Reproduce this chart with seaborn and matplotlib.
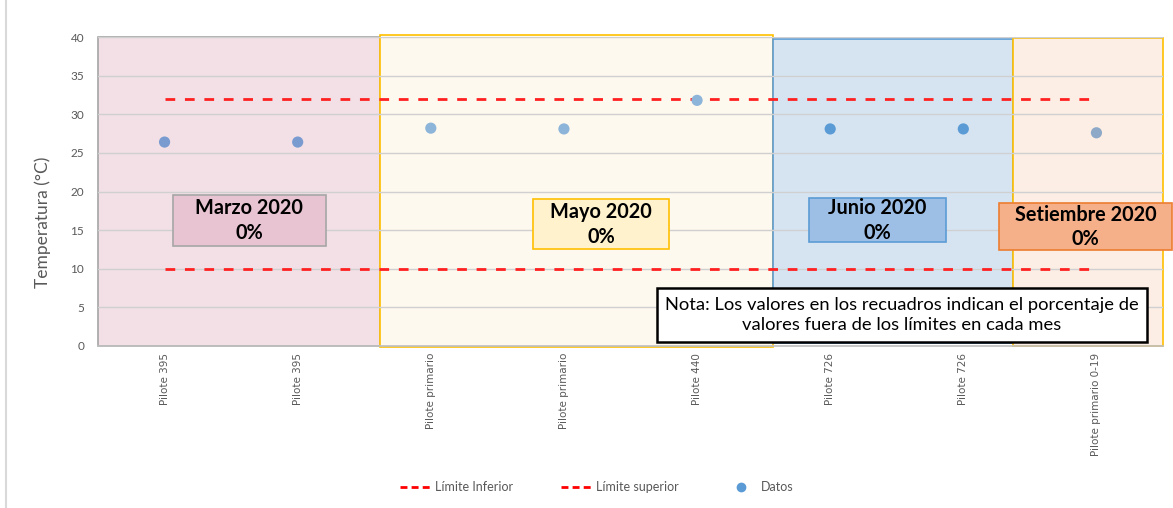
import matplotlib
matplotlib.use("Agg")
import matplotlib.pyplot as plt
from matplotlib.patches import Rectangle
from matplotlib.lines import Line2D
import seaborn as sns
import pandas as pd
import numpy as np

# Measurement points and temperatures
categories = ["Pilote 395", "Pilote 395", "Pilote primario", "Pilote primario",
              "Pilote 440", "Pilote 726", "Pilote 726", "Pilote primario 0-19"]
temperatures = [26.4, 26.4, 28.2, 28.1, 31.8, 28.1, 28.1, 27.6]
point_month = ["Marzo", "Marzo", "Mayo", "Mayo", "Mayo", "Junio", "Junio", "Setiembre"]
limite_inferior = [10] * 8
limite_superior = [32] * 8

# Month groups: label, percent outside limits
months = ["Marzo", "Mayo", "Junio", "Setiembre"]
month_titles = ["Marzo 2020", "Mayo 2020", "Junio 2020", "Setiembre 2020"]
month_pct = ["0%", "0%", "0%", "0%"]

sns.set_theme(style="white")
plt.rcParams["font.family"] = ["Lato", "DejaVu Sans"]

fig = plt.figure(figsize=(11.73, 5.08), dpi=100)
ax = fig.add_axes([98 / 1173, 1 - 346 / 508, (1163 - 98) / 1173, (346 - 37) / 508])

x = np.arange(len(categories))
df = pd.DataFrame({"x": x, "temp": temperatures, "mes": point_month,
                   "inf": limite_inferior, "sup": limite_superior})

# Month background regions
regions = [
    (-0.5, 1.62, 0, 40, "#F2E0E6", "#A6A6A6"),
    (1.62, 4.57, -0.1, 40.2, "#FEF9EF", "#FFC000"),
    (4.57, 6.37, 0.4, 39.7, "#D6E4F2", "#5B9BD5"),
    (6.37, 7.5, 0, 39.9, "#FCEEE4", "#FFC000"),
]
for x0, x1, y0, y1, fc, ec in regions:
    ax.add_patch(Rectangle((x0, y0), x1 - x0, y1 - y0, facecolor=fc,
                           edgecolor=ec, linewidth=1.2, zorder=0.2, clip_on=False))

ax.set_axisbelow(True)
ax.yaxis.grid(True, color="#D0D0D0", linewidth=1)
ax.xaxis.grid(False)

# Limit lines
sns.lineplot(data=df, x="x", y="sup", ax=ax, color="#FF2020", linewidth=2,
             linestyle=(0, (3.5, 3.5)), zorder=3, legend=False)
sns.lineplot(data=df, x="x", y="inf", ax=ax, color="#FF2020", linewidth=2,
             linestyle=(0, (3.5, 3.5)), zorder=3, legend=False)

# Data points coloured by month
palette = {"Marzo": "#7A9BD0", "Mayo": "#8DB5D9", "Junio": "#5B9BD5", "Setiembre": "#8EA9C8"}
sns.scatterplot(data=df, x="x", y="temp", hue="mes", palette=palette, ax=ax,
                s=65, edgecolor="none", zorder=4, legend=False)

# Month label boxes: (x0, x1, y0, y1, fill, edge, text centre y)
boxes = [
    (0.06, 1.21, 12.94, 19.55, "#E8C4D2", "#A6A6A6", 16.2),
    (2.77, 3.79, 12.56, 19.03, "#FFF2CC", "#FFC000", 15.7),
    (4.84, 5.87, 13.46, 19.16, "#9DBFE6", "#5B9BD5", 16.2),
    (6.27, 7.57, 12.43, 18.5, "#F5B08A", "#ED7D31", 15.4),
]
for (x0, x1, y0, y1, fc, ec, ty), title, pct in zip(boxes, month_titles, month_pct):
    ax.add_patch(Rectangle((x0, y0), x1 - x0, y1 - y0, facecolor=fc, edgecolor=ec,
                           linewidth=1.2, zorder=5, clip_on=False))
    ax.text((x0 + x1) / 2, ty, f"{title}\n{pct}", ha="center", va="center",
            fontsize=14.3, fontweight="bold", color="black", linespacing=1.3,
            zorder=6, clip_on=False)

# Note box
ax.add_patch(Rectangle((3.70, 0.5), 7.38 - 3.70, 7.5 - 0.5, facecolor="white",
                       edgecolor="black", linewidth=1.8, zorder=5, clip_on=False))
ax.text((3.70 + 7.38) / 2, 4.0,
        "Nota: Los valores en los recuadros indican el porcentaje de\n"
        "valores fuera de los límites en cada mes",
        ha="center", va="center", fontsize=13.2, color="black", linespacing=1.25, zorder=6)

ax.set_xlim(-0.5, 7.5)
ax.set_ylim(0, 40)
ax.set_yticks(range(0, 41, 5))
ax.set_xticks(x)
ax.set_xticklabels(categories, rotation=90, va="top", ha="center",
                   fontsize=7.5, color="#595959", family="DejaVu Sans")
ax.tick_params(axis="y", labelsize=8.5, labelcolor="#595959", length=0, pad=10)
ax.tick_params(axis="x", length=0, pad=5)
ax.set_xlabel("")
ax.set_ylabel("Temperatura (°C)", fontsize=12.5, color="#595959")
ax.yaxis.set_label_coords(-47 / 1065, (346 - 222) / 309)
for side in ["top", "right", "left"]:
    ax.spines[side].set_visible(False)
ax.spines["bottom"].set_color("#BFBFBF")
ax.spines["bottom"].set_linewidth(1.2)

# Legend
handles = [
    Line2D([], [], color="#FF0000", linewidth=2, linestyle=(0, (2.5, 1.5))),
    Line2D([], [], color="#FF0000", linewidth=2, linestyle=(0, (2.5, 1.5))),
    Line2D([], [], color="#5B9BD5", marker="o", linestyle="none", markersize=6),
]
fig.legend(handles, ["Límite Inferior", "Límite superior", "Datos"], loc="center",
           bbox_to_anchor=(597 / 1173, 1 - 487 / 508), ncol=3, frameon=False,
           fontsize=9, labelcolor="#595959", handlelength=2.4, columnspacing=3.8,
           handletextpad=0.4)

# Chart frame edge
fig.add_artist(Line2D([6 / 1173, 6 / 1173], [0, 1], color="#D9D9D9", linewidth=1.5))

fig.savefig("out.png", dpi=100)
